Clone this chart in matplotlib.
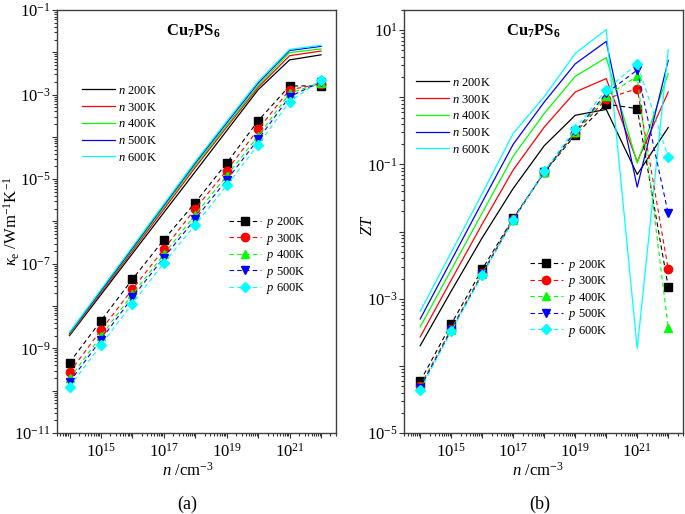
import matplotlib
matplotlib.use('Agg')
import matplotlib.pyplot as plt
from matplotlib.ticker import LogLocator, FuncFormatter, NullFormatter
import math

plt.rcParams['font.family'] = ['Liberation Serif', 'DejaVu Serif']
plt.rcParams['mathtext.fontset'] = 'custom'
plt.rcParams['mathtext.rm'] = 'Liberation Serif'
plt.rcParams['mathtext.it'] = 'Liberation Serif:italic'
plt.rcParams['mathtext.bf'] = 'Liberation Serif:bold'

# 载流子浓度 /cm^-3
conc = [1e14, 1e15, 1e16, 1e17, 1e18, 1e19, 1e20, 1e21, 1e22]
temps = ['200K', '300K', '400K', '500K', '600K']
colors = ['#000000', '#ff0000', '#00ff00', '#0000ff', '#00ffff']
markers = ['s', 'o', '^', 'v', 'D']

# (a) 电子热导率, n型
kappa_n_200 = [2.0e-9, 1.86e-8, 1.74e-7, 1.62e-6, 1.5e-5, 1.4e-4, 1.3e-3, 6.6e-3, 8.7e-3]
kappa_n_300 = [2.1e-9, 2.04e-8, 2.0e-7, 1.95e-6, 1.9e-5, 1.7e-4, 1.48e-3, 8.3e-3, 1.07e-2]
kappa_n_400 = [2.2e-9, 2.2e-8, 2.2e-7, 2.2e-6, 2.14e-5, 1.86e-4, 1.62e-3, 9.8e-3, 1.2e-2]
kappa_n_500 = [2.3e-9, 2.3e-8, 2.34e-7, 2.4e-6, 2.4e-5, 2.14e-4, 1.86e-3, 1.1e-2, 1.38e-2]
kappa_n_600 = [2.4e-9, 2.45e-8, 2.5e-7, 2.57e-6, 2.6e-5, 2.34e-4, 2.04e-3, 1.17e-2, 1.46e-2]
# (a) 电子热导率, p型
kappa_p_200 = [4.6e-10, 4.5e-9, 4.3e-8, 3.7e-7, 2.8e-6, 2.4e-5, 2.4e-4, 1.6e-3, 1.6e-3]
kappa_p_300 = [2.7e-10, 2.7e-9, 2.5e-8, 2.2e-7, 2.0e-6, 1.6e-5, 1.5e-4, 1.3e-3, 1.8e-3]
kappa_p_400 = [1.95e-10, 1.95e-9, 1.9e-8, 1.66e-7, 1.45e-6, 1.2e-5, 1.05e-4, 1.07e-3, 1.9e-3]
kappa_p_500 = [1.6e-10, 1.6e-9, 1.6e-8, 1.4e-7, 1.15e-6, 9.5e-6, 8.7e-5, 8.9e-4, 2.0e-3]
kappa_p_600 = [1.23e-10, 1.2e-9, 1.15e-8, 1.05e-7, 8.3e-7, 7.1e-6, 6.5e-5, 6.8e-4, 2.2e-3]

# (b) ZT, n型
zt_n_200 = [2.0e-4, 1.3e-3, 8.1e-3, 4.4e-2, 0.19, 0.54, 0.66, 7.1e-2, 0.355]
zt_n_300 = [2.7e-4, 1.9e-3, 1.3e-2, 8.3e-2, 0.36, 1.2, 1.9, 0.11, 1.2]
zt_n_400 = [3.8e-4, 2.7e-3, 1.9e-2, 0.133, 0.575, 2.05, 3.9, 0.105, 2.25]
zt_n_500 = [5.0e-4, 3.7e-3, 2.75e-2, 0.20, 0.85, 3.15, 6.8, 4.6e-2, 3.55]
zt_n_600 = [6.5e-4, 4.9e-3, 3.7e-2, 0.29, 1.02, 4.5, 10.2, 1.8e-4, 5.1]
# (b) ZT, p型
zt_p_200 = [5.9e-5, 4.2e-4, 2.75e-3, 1.58e-2, 7.6e-2, 0.275, 0.79, 0.68, 1.5e-3]
zt_p_300 = [5.0e-5, 3.55e-4, 2.4e-3, 1.55e-2, 7.6e-2, 0.295, 0.95, 1.35, 2.75e-3]
zt_p_400 = [4.8e-5, 3.45e-4, 2.35e-3, 1.5e-2, 7.6e-2, 0.30, 1.05, 2.05, 3.7e-4]
zt_p_500 = [4.7e-5, 3.4e-4, 2.3e-3, 1.5e-2, 7.8e-2, 0.31, 1.15, 2.55, 1.86e-2]
zt_p_600 = [4.4e-5, 3.25e-4, 2.25e-3, 1.48e-2, 7.9e-2, 0.34, 1.3, 3.15, 0.13]

kappa_n = [kappa_n_200, kappa_n_300, kappa_n_400, kappa_n_500, kappa_n_600]
kappa_p = [kappa_p_200, kappa_p_300, kappa_p_400, kappa_p_500, kappa_p_600]
zt_n = [zt_n_200, zt_n_300, zt_n_400, zt_n_500, zt_n_600]
zt_p = [zt_p_200, zt_p_300, zt_p_400, zt_p_500, zt_p_600]


# 只标注奇数次幂
def odd_exp(v, pos):
    e = int(round(math.log10(v)))
    return r'$10^{%d}$' % e if e % 2 else ''


def style_axis(ax):
    ax.set_xscale('log')
    ax.set_yscale('log')
    for ax_ in (ax.xaxis, ax.yaxis):
        ax_.set_major_locator(LogLocator(base=10, numticks=30))
        ax_.set_minor_locator(LogLocator(base=10, subs=range(2, 10), numticks=30))
        ax_.set_major_formatter(FuncFormatter(odd_exp))
        ax_.set_minor_formatter(NullFormatter())
    ax.tick_params(which='both', direction='out', top=False, right=False,
                   labelsize=12, width=0.8, color='#333333')
    ax.tick_params(which='major', length=3.5)
    ax.tick_params(which='minor', length=2)
    ax.tick_params(axis='y', pad=1)
    for s in ax.spines.values():
        s.set_linewidth(1.0)
        s.set_edgecolor('#404040')


def draw_panel(ax, n_data, p_data):
    n_lines, p_lines = [], []
    for i in range(5):
        l, = ax.plot(conc, n_data[i], color=colors[i], lw=0.9,
                     label=r'$n$ ' + temps[i])
        n_lines.append(l)
    for i in range(5):
        l, = ax.plot(conc, p_data[i], color=colors[i], lw=0.8, ls=(0, (4, 3)),
                     marker=markers[i], ms=5.5 if markers[i] in 'sD' else 6,
                     mec=colors[i], mfc=colors[i], label=r'$p$ ' + temps[i])
        p_lines.append(l)
    return n_lines, p_lines


def add_legends(ax, n_h, p_h, n_pos, p_pos):
    leg = ax.legend(handles=n_h, loc='upper left', bbox_to_anchor=n_pos,
                    frameon=False, fontsize=9, handlelength=2.6, handletextpad=0.3,
                    labelspacing=0.38, borderpad=0, borderaxespad=0)
    ax.add_artist(leg)
    ax.legend(handles=p_h, loc='upper left', bbox_to_anchor=p_pos,
              frameon=False, fontsize=9, handlelength=2.6, handletextpad=0.4,
              labelspacing=0.12, borderpad=0, borderaxespad=0, numpoints=1)


fig = plt.figure(figsize=(6.85, 5.14), dpi=100)
ax1 = fig.add_axes([0.0832, 0.1576, 0.4073, 0.823])
ax2 = fig.add_axes([0.5898, 0.1576, 0.4073, 0.823])

# (a)
n1, p1 = draw_panel(ax1, kappa_n, kappa_p)
style_axis(ax1)
ax1.set_xlim(4e13, 3e22)
ax1.set_ylim(1e-11, 1e-1)
ax1.set_ylabel(r'$\kappa_{\rm e}$ /Wm$^{-1}$K$^{-1}$', fontsize=12)
ax1.yaxis.set_label_coords(-0.125, 0.5)
ax1.set_xlabel(r'$n$ /cm$^{-3}$', fontsize=12)
ax1.xaxis.set_label_coords(0.47, -0.068)
ax1.text(0.489, 0.949, r'$\mathbf{Cu_7PS_6}$', transform=ax1.transAxes,
         ha='center', va='center', fontsize=12)
add_legends(ax1, n1, p1, (0.09, 0.823), (0.616, 0.515))

# (b)
n2, p2 = draw_panel(ax2, zt_n, zt_p)
style_axis(ax2)
ax2.set_xlim(3e13, 3e22)
ax2.set_ylim(1e-5, 20)
ax2.set_ylabel(r'$ZT$', fontsize=12)
ax2.yaxis.set_label_coords(-0.10, 0.49)
ax2.set_xlabel(r'$n$ /cm$^{-3}$', fontsize=12)
ax2.xaxis.set_label_coords(0.478, -0.068)
ax2.text(0.464, 0.949, r'$\mathbf{Cu_7PS_6}$', transform=ax2.transAxes,
         ha='center', va='center', fontsize=12)
add_legends(ax2, n2, p2, (0.043, 0.842), (0.452, 0.414))

fig.text(187.5 / 685, 1 - 504 / 514, '(a)', ha='center', va='center', fontsize=13)
fig.text(540 / 685, 1 - 504 / 514, '(b)', ha='center', va='center', fontsize=13)

fig.savefig('out.png', dpi=100)
